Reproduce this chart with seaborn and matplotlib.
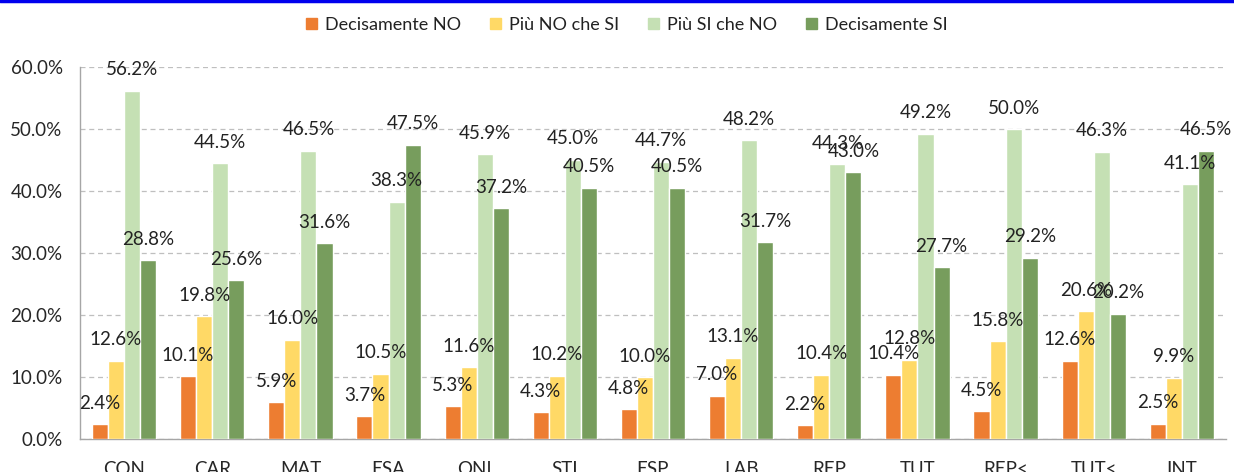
"""Grouped bar chart: Decisamente NO / Più NO che SI / Più SI che NO / Decisamente SI."""
import matplotlib
matplotlib.use("Agg")
import matplotlib.pyplot as plt
from matplotlib.lines import Line2D
from matplotlib.ticker import FixedLocator
import numpy as np
import pandas as pd
import seaborn as sns

categories = ["CON", "CAR", "MAT", "ESA", "ONL", "STI", "ESP", "LAB", "REP",
              "TUT", "REP<", "TUT<", "INT"]
series_names = ["Decisamente NO", "Più NO che SI", "Più SI che NO", "Decisamente SI"]
dec_no = [2.4, 10.1, 5.9, 3.7, 5.3, 4.3, 4.8, 7.0, 2.2, 10.4, 4.5, 12.6, 2.5]
piu_no = [12.6, 19.8, 16.0, 10.5, 11.6, 10.2, 10.0, 13.1, 10.4, 12.8, 15.8, 20.6, 9.9]
piu_si = [56.2, 44.5, 46.5, 38.3, 45.9, 45.0, 44.7, 48.2, 44.3, 49.2, 50.0, 46.3, 41.1]
dec_si = [28.8, 25.6, 31.6, 47.5, 37.2, 40.5, 40.5, 31.7, 43.0, 27.7, 29.2, 20.2, 46.5]
colors = ["#ED7D31", "#FFD966", "#C5E0B4", "#779D5D"]

rows = []
for name, vals in zip(series_names, [dec_no, piu_no, piu_si, dec_si]):
    for cat, v in zip(categories, vals):
        rows.append({"cat": cat, "serie": name, "val": v})
df = pd.DataFrame(rows)

sns.set_style("white")
plt.rcParams["font.family"] = ["Lato", "DejaVu Sans"]
plt.rcParams["text.color"] = "#222222"

fig = plt.figure(figsize=(12.34, 4.72), dpi=100)
ax = fig.add_axes([80 / 1234, 1 - 439 / 472, (1226 - 80) / 1234, (439 - 67) / 472])

sns.barplot(data=df, x="cat", y="val", hue="serie", order=categories,
            hue_order=series_names, palette=colors, width=0.73, gap=0,
            saturation=1, errorbar=None, ax=ax, legend=False, zorder=3)

for container in ax.containers:
    labels = [f"{b.get_height():.1f}%" for b in container]
    ax.bar_label(container, labels=labels, padding=9, fontsize=13.5,
                 color="#222222", zorder=4)

ax.set_ylim(0, 60)
ax.set_xlim(-0.5, len(categories) - 0.5)
ax.set_yticks(np.arange(0, 61, 10))
ax.set_yticklabels([f"{t:.1f}%" for t in np.arange(0, 61, 10)], fontsize=13.5)
ax.yaxis.grid(True, color="#BFBFBF", linestyle=(0, (4, 3)), linewidth=0.9)
ax.set_axisbelow(True)

ax.xaxis.set_minor_locator(FixedLocator(np.arange(-0.5, len(categories), 1)))
ax.tick_params(axis="x", which="major", length=0, pad=16, labelsize=13.5)
ax.tick_params(axis="x", which="minor", length=6, color="#A6A6A6", width=1)
ax.tick_params(axis="y", length=5, color="#A6A6A6", width=1, pad=7.5)
ax.set_xlabel("")
ax.set_ylabel("")

sns.despine(ax=ax, top=True, right=True)
for side in ["left", "bottom"]:
    ax.spines[side].set_color("#A6A6A6")
    ax.spines[side].set_linewidth(1)

handles = [plt.Rectangle((0, 0), 1, 1, color=c) for c in colors]
fig.legend(handles, series_names, loc="center", bbox_to_anchor=(0.508, 1 - 25 / 472),
           ncol=4, frameon=False, fontsize=13, handlelength=0.6, handleheight=0.6,
           handletextpad=0.45, columnspacing=1.6)

fig.add_artist(Line2D([0, 1], [0.997, 0.997], transform=fig.transFigure,
                      color="#0000EE", linewidth=2.5))

fig.savefig("out.png", dpi=100)
plt.close(fig)
